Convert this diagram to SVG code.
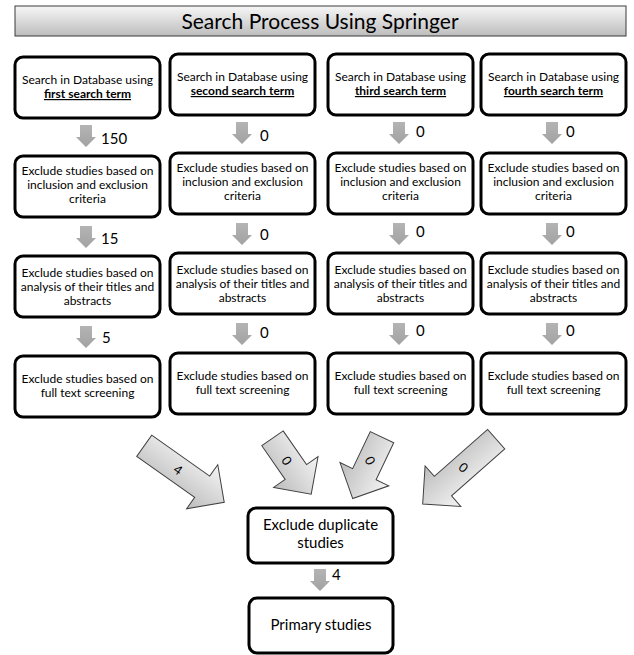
<svg xmlns="http://www.w3.org/2000/svg" width="634" height="655" viewBox="0 0 634 655">
<defs>
<linearGradient id="tg" x1="0" y1="0" x2="0" y2="1">
<stop offset="0" stop-color="#f7f7f7"/>
<stop offset="1" stop-color="#bdbdbd"/>
</linearGradient>
<linearGradient id="ag" x1="0" y1="0" x2="0" y2="1">
<stop offset="0" stop-color="#f4f4f4"/>
<stop offset="1" stop-color="#bcbcbc"/>
</linearGradient>
<linearGradient id="sg" x1="0" y1="0" x2="0" y2="1">
<stop offset="0" stop-color="#b4b4b4"/>
<stop offset="1" stop-color="#a2a2a2"/>
</linearGradient>
<polygon id="down" points="-6,0 6,0 6,12 10,12 0,22 -10,12 -6,12"/>
<polygon id="big98" points="0,-13 71,-13 71,-27 98,0 71,27 71,13 0,13"/>
<polygon id="big68" points="0,-13 41,-13 41,-27 68,0 41,27 41,13 0,13"/>
</defs>
<style>
.box{fill:#fff;stroke:#000;stroke-width:3}
.t{font-family:Lato,"Liberation Sans",sans-serif;font-size:12px;fill:#000;text-anchor:middle}
.b{font-weight:bold;text-decoration:underline}
.big{font-family:Lato,"Liberation Sans",sans-serif;font-size:15px;fill:#000;text-anchor:middle}
.sa{fill:url(#sg)}
.ba{fill:url(#ag);stroke:#404040;stroke-width:1}
.n{font-family:Lato,"Liberation Sans",sans-serif;font-size:15px;fill:#000}
.bn{font-family:Lato,"Liberation Sans",sans-serif;font-size:13px;fill:#000;text-anchor:middle}
</style>
<rect width="634" height="655" fill="#fff"/>
<g id="title">
<rect x="15" y="6" width="611" height="30" fill="url(#tg)" stroke="#3a3a3a" stroke-width="1"/>
<text x="320" y="29" font-family="Lato,'Liberation Sans',sans-serif" font-size="21" text-anchor="middle" fill="#000">Search Process Using Springer</text>
</g>
<g id="c1r1"><rect class="box" x="15" y="57" width="145" height="61" rx="8"/>
<text class="t" x="87.5" y="84">Search in Database using</text><text class="t b" x="87.5" y="98">first search term</text></g>
<g id="c2r1"><rect class="box" x="170" y="54" width="145" height="61" rx="8"/>
<text class="t" x="242.5" y="81">Search in Database using</text><text class="t b" x="242.5" y="95">second search term</text></g>
<g id="c3r1"><rect class="box" x="328" y="54" width="145" height="61" rx="8"/>
<text class="t" x="400.5" y="81">Search in Database using</text><text class="t b" x="400.5" y="95">third search term</text></g>
<g id="c4r1"><rect class="box" x="481" y="54" width="145" height="61" rx="8"/>
<text class="t" x="553.5" y="81">Search in Database using</text><text class="t b" x="553.5" y="95">fourth search term</text></g>

<g id="c1r2"><rect class="box" x="15" y="156" width="145" height="61" rx="8"/>
<text class="t" x="87.5" y="175">Exclude studies based on</text><text class="t" x="87.5" y="189">inclusion and exclusion</text><text class="t" x="87.5" y="203">criteria</text></g>
<g id="c2r2"><rect class="box" x="170" y="153" width="145" height="61" rx="8"/>
<text class="t" x="242.5" y="172">Exclude studies based on</text><text class="t" x="242.5" y="186">inclusion and exclusion</text><text class="t" x="242.5" y="200">criteria</text></g>
<g id="c3r2"><rect class="box" x="328" y="153" width="145" height="61" rx="8"/>
<text class="t" x="400.5" y="172">Exclude studies based on</text><text class="t" x="400.5" y="186">inclusion and exclusion</text><text class="t" x="400.5" y="200">criteria</text></g>
<g id="c4r2"><rect class="box" x="481" y="153" width="145" height="61" rx="8"/>
<text class="t" x="553.5" y="172">Exclude studies based on</text><text class="t" x="553.5" y="186">inclusion and exclusion</text><text class="t" x="553.5" y="200">criteria</text></g>

<g id="c1r3"><rect class="box" x="15" y="256" width="145" height="61" rx="8"/>
<text class="t" x="87.5" y="276.5">Exclude studies based on</text><text class="t" x="87.5" y="290.5">analysis of their titles and</text><text class="t" x="87.5" y="304.5">abstracts</text></g>
<g id="c2r3"><rect class="box" x="170" y="253" width="145" height="61" rx="8"/>
<text class="t" x="242.5" y="273.5">Exclude studies based on</text><text class="t" x="242.5" y="287.5">analysis of their titles and</text><text class="t" x="242.5" y="301.5">abstracts</text></g>
<g id="c3r3"><rect class="box" x="328" y="253" width="145" height="61" rx="8"/>
<text class="t" x="400.5" y="273.5">Exclude studies based on</text><text class="t" x="400.5" y="287.5">analysis of their titles and</text><text class="t" x="400.5" y="301.5">abstracts</text></g>
<g id="c4r3"><rect class="box" x="481" y="253" width="145" height="61" rx="8"/>
<text class="t" x="553.5" y="273.5">Exclude studies based on</text><text class="t" x="553.5" y="287.5">analysis of their titles and</text><text class="t" x="553.5" y="301.5">abstracts</text></g>

<g id="c1r4"><rect class="box" x="15" y="356" width="145" height="61" rx="8"/>
<text class="t" x="87.5" y="382.5">Exclude studies based on</text><text class="t" x="87.5" y="396.5">full text screening</text></g>
<g id="c2r4"><rect class="box" x="170" y="353" width="145" height="61" rx="8"/>
<text class="t" x="242.5" y="379.5">Exclude studies based on</text><text class="t" x="242.5" y="393.5">full text screening</text></g>
<g id="c3r4"><rect class="box" x="328" y="353" width="145" height="61" rx="8"/>
<text class="t" x="400.5" y="379.5">Exclude studies based on</text><text class="t" x="400.5" y="393.5">full text screening</text></g>
<g id="c4r4"><rect class="box" x="481" y="353" width="145" height="61" rx="8"/>
<text class="t" x="553.5" y="379.5">Exclude studies based on</text><text class="t" x="553.5" y="393.5">full text screening</text></g>

<g id="dup"><rect class="box" x="248" y="508" width="145" height="55" rx="8"/>
<text class="big" x="320.5" y="530">Exclude duplicate</text><text class="big" x="320.5" y="548">studies</text></g>
<g id="primary"><rect class="box" x="249" y="598" width="144" height="55" rx="8"/>
<text class="big" x="321" y="630">Primary studies</text></g>

<g id="connectors">
<use href="#down" class="sa" x="86" y="125"/><text class="n" x="101" y="144">150</text>
<use href="#down" class="sa" x="86" y="226"/><text class="n" x="101" y="244">15</text>
<use href="#down" class="sa" x="86" y="326"/><text class="n" x="102" y="343">5</text>
<use href="#down" class="sa" x="242" y="122"/><text class="n" x="260" y="141">0</text>
<use href="#down" class="sa" x="242" y="223"/><text class="n" x="260" y="240">0</text>
<use href="#down" class="sa" x="242" y="323"/><text class="n" x="260" y="338">0</text>
<use href="#down" class="sa" x="399" y="122"/><text class="n" x="416" y="137">0</text>
<use href="#down" class="sa" x="399" y="223"/><text class="n" x="416" y="237">0</text>
<use href="#down" class="sa" x="399" y="323"/><text class="n" x="416" y="336">0</text>
<use href="#down" class="sa" x="552" y="122"/><text class="n" x="566" y="137">0</text>
<use href="#down" class="sa" x="552" y="223"/><text class="n" x="566" y="237">0</text>
<use href="#down" class="sa" x="552" y="323"/><text class="n" x="566" y="336">0</text>
<use href="#down" class="sa" x="320" y="569"/><text class="n" x="332" y="580">4</text>

<use href="#big98" class="ba" transform="translate(144.2,445.8) rotate(35.25)"/>
<text class="bn" transform="translate(178,470) rotate(35.25)" y="4.5">4</text>
<use href="#big68" class="ba" transform="translate(272.5,438.3) rotate(55.3)"/>
<text class="bn" transform="translate(286.7,460.7) rotate(55.3)" y="4.5">0</text>
<use href="#big68" class="ba" transform="translate(382,437.2) rotate(115.5)"/>
<text class="bn" transform="translate(370,460.7) rotate(64.5)" y="4.5">0</text>
<use href="#big98" class="ba" transform="translate(496.2,439.2) rotate(138.6)"/>
<text class="bn" transform="translate(463.3,467.7) rotate(41.4)" y="4.5">0</text>
</g>
</svg>
